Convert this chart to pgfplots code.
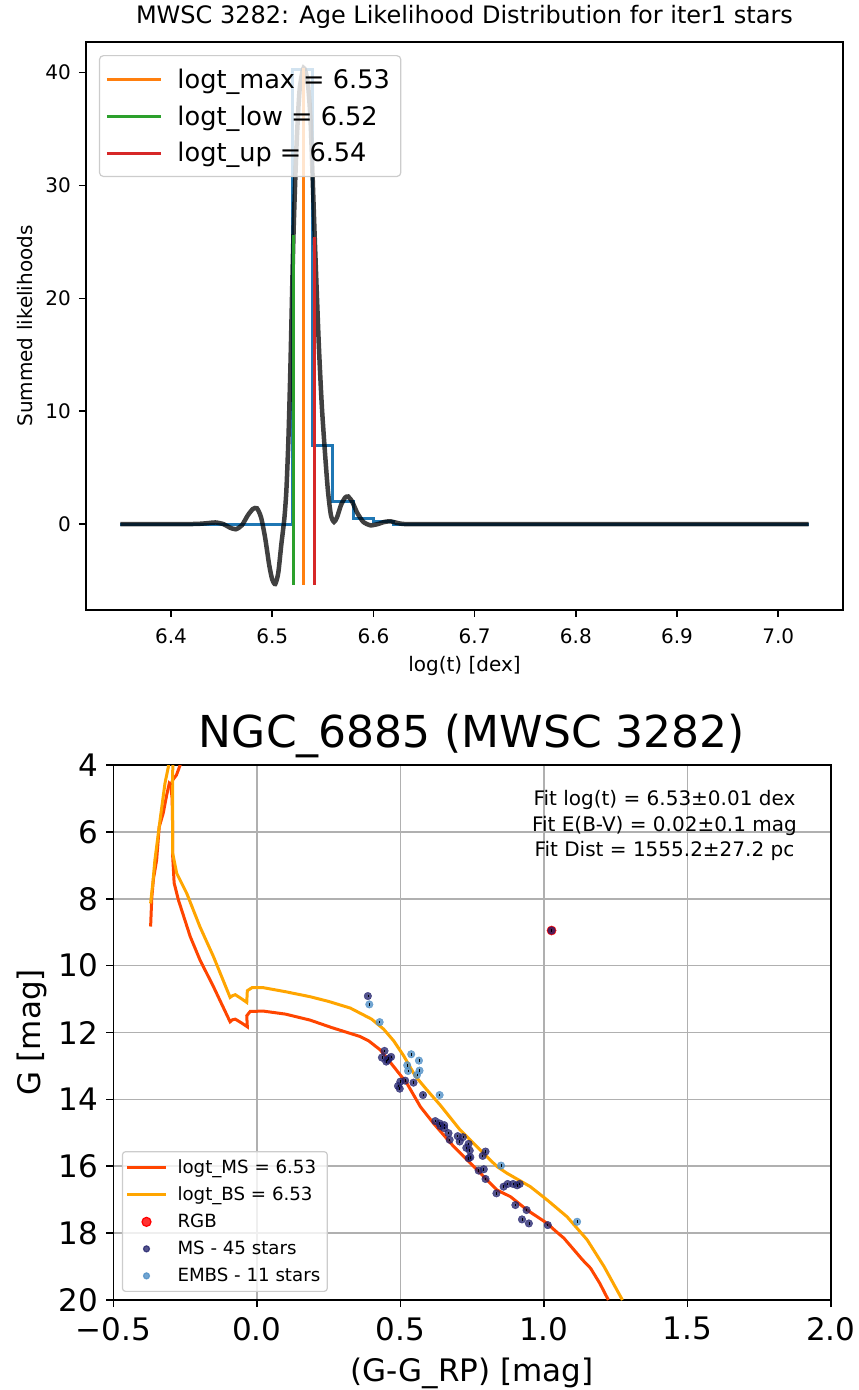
\documentclass[border=0pt]{standalone}
\usepackage{fontspec}
\setmainfont{DejaVu Sans}
\usepackage{pgfplots}
\usepackage{pgfplotstable}
\pgfplotsset{compat=1.18}
\definecolor{tabblue}{HTML}{1F77B4}
\definecolor{taborange}{HTML}{FF7F0E}
\definecolor{tabgreen}{HTML}{2CA02C}
\definecolor{tabred}{HTML}{D62728}
\definecolor{msiso}{HTML}{FF4500}
\definecolor{bsiso}{HTML}{FFA500}
\definecolor{msstar}{HTML}{24246E}
\definecolor{embsstar}{HTML}{4F8FC6}
\definecolor{gridgray}{HTML}{B0B0B0}
\definecolor{leggray}{HTML}{CCCCCC}
\pgfplotsset{dotleg/.style={legend image code/.code={\draw[##1, mark size=#1] plot coordinates {(19.5pt,0pt)};}}}

% ---------- top panel data ----------
\pgfplotstableread{
x y
6.350 0
6.400 0.0
6.425 0.02
6.435 0.08
6.444 0.15
6.452 0.0
6.458 -0.3
6.464 -0.45
6.470 -0.1
6.476 0.8
6.481 1.35
6.485 1.4
6.489 0.6
6.493 -1.2
6.497 -3.6
6.500 -4.9
6.503 -5.3
6.506 -4.3
6.509 -1.8
6.512 0.5
6.514 3.0
6.516 7.5
6.518 14.0
6.521 25.6
6.524 33.5
6.527 38.4
6.531 40.4
6.535 39.2
6.538 35.5
6.542 25.4
6.546 16.0
6.549 10.5
6.552 6.5
6.555 3.0
6.558 0.8
6.561 0.2
6.564 0.6
6.568 1.7
6.572 2.35
6.575 2.45
6.579 2.0
6.584 1.0
6.590 0.2
6.597 -0.1
6.604 0.0
6.611 0.2
6.617 0.25
6.624 0.1
6.635 0.0
6.700 0.0
7.030 0.0
}\blackcurve

\pgfplotstableread{
x y
6.35 0
6.52 0
6.52 40.3
6.54 40.3
6.54 7.0
6.56 7.0
6.56 2.05
6.58 2.05
6.58 0.48
6.60 0.48
6.60 0.2
6.62 0.2
6.62 0
7.03 0
}\histo

% ---------- bottom panel data ----------
\pgfplotstableread{
x y
1.225 20.0
1.195 19.5
1.163 19.05
1.135 18.8
1.105 18.5
1.07 18.15
1.04 17.93
1.012 17.71
0.942 17.31
0.884 16.91
0.837 16.71
0.756 16.01
0.686 15.41
0.616 14.72
0.570 14.22
0.523 13.52
0.477 13.02
0.430 12.52
0.390 12.25
0.360 12.12
0.26 11.85
0.186 11.63
0.10 11.45
0.023 11.36
-0.023 11.37
-0.035 11.5
-0.033 11.83
-0.052 11.72
-0.075 11.6
-0.085 11.62
-0.093 11.68
-0.151 10.63
-0.198 9.83
-0.232 9.13
-0.273 8.04
-0.288 7.53
-0.293 6.74
-0.293 6.03
-0.295 5.0
-0.300 4.6
-0.293 4.45
-0.280 4.3
-0.267 4.0
-0.255 3.5
}\msisoA

\pgfplotstableread{
x y
-0.370 8.83
-0.366 7.98
-0.360 7.4
-0.349 6.84
-0.340 5.85
-0.326 5.44
-0.314 4.9
-0.305 4.55
-0.300 4.6
}\msisoB

\pgfplotstableread{
x y
1.274 20.0
1.21 19.0
1.151 18.2
1.081 17.51
1.012 17.01
0.953 16.61
0.872 16.21
0.837 16.01
0.779 15.52
0.709 14.92
0.639 14.17
0.593 13.72
0.552 13.3
0.512 12.7
0.477 12.25
0.442 11.9
0.40 11.6
0.326 11.27
0.25 11.07
0.186 10.93
0.10 10.78
0.023 10.66
-0.017 10.66
-0.033 10.75
-0.035 11.1
-0.055 10.98
-0.075 10.87
-0.085 10.9
-0.093 10.95
-0.151 9.73
-0.198 8.84
-0.244 7.84
-0.279 7.24
-0.293 6.64
-0.293 5.05
-0.293 4.2
-0.291 3.5
}\bsisoA

\pgfplotstableread{
x y
-0.370 8.14
-0.362 7.5
-0.355 6.84
-0.337 5.64
-0.320 4.55
-0.308 4.05
-0.305 3.5
}\bsisoB

\pgfplotstableread{
x y
1.027 8.95
}\rgb

\pgfplotstableread{
x y
1.027 8.95
0.387 10.91
0.445 12.55
0.436 12.75
0.468 12.73
0.451 12.87
0.456 12.82
0.460 12.78
0.517 13.44
0.500 13.47
0.546 13.50
0.492 13.60
0.498 13.68
0.579 13.87
0.622 14.65
0.637 14.72
0.640 14.80
0.653 14.77
0.653 14.86
0.668 15.01
0.672 15.21
0.700 15.10
0.707 15.26
0.718 15.13
0.730 15.45
0.738 15.33
0.742 15.53
0.744 15.73
0.738 15.76
0.797 15.56
0.787 15.69
0.773 16.13
0.791 16.09
0.797 16.38
0.835 16.81
0.860 16.61
0.874 16.53
0.893 16.53
0.907 16.57
0.916 16.53
0.901 17.16
0.940 17.31
0.924 17.59
0.948 17.71
1.014 17.76
}\msstars

\pgfplotstableread{
x y
0.392 11.16
0.428 11.69
0.538 12.65
0.565 12.84
0.524 12.98
0.567 13.14
0.527 13.15
0.558 13.27
0.637 13.87
0.851 15.98
1.116 17.66
}\embsstars

\begin{document}
\begin{tikzpicture}
\useasboundingbox (0pt,0pt) rectangle (859pt,1390pt);

% ================= TOP PANEL =================
\begin{axis}[
  at={(86pt,780pt)}, anchor=south west,
  scale only axis, width=757pt, height=568pt,
  xmin=6.316, xmax=7.064, ymin=-7.6, ymax=42.7,
  axis line style={line width=1.6pt},
  tick align=outside, tick pos=left,
  major tick length=7pt,
  every tick/.style={black, line width=1.6pt},
  xtick={6.4,6.5,6.6,6.7,6.8,6.9,7.0},
  xticklabels={6.4,6.5,6.6,6.7,6.8,6.9,7.0},
  ytick={0,10,20,30,40},
  yticklabels={0,10,20,30,40},
  xticklabel style={font=\fontsize{20}{24}\selectfont, anchor=north, inner sep=0pt, yshift=-11pt},
  yticklabel style={font=\fontsize{20}{24}\selectfont, anchor=east, inner sep=0pt, xshift=-8pt},
  title={MWSC 3282: Age Likelihood Distribution for iter1 stars},
  title style={font=\fontsize{24}{28}\selectfont, at={(axis description cs:0.5,1.0211)}, anchor=base},
  xlabel={log(t) [dex]},
  xlabel style={font=\fontsize{20}{24}\selectfont, at={(axis description cs:0.5,-0.1086)}, anchor=base},
  ylabel={Summed likelihoods},
  ylabel style={font=\fontsize{20}{24}\selectfont, at={(axis description cs:-0.0713,0.5)}, anchor=base, rotate=0},
  legend cell align=left,
  legend style={at={(0.017,0.977)}, anchor=north west, draw=leggray, line width=1.2pt,
    fill=white, fill opacity=0.8, text opacity=1, draw opacity=1, rounded corners=4pt,
    font=\fontsize{25.6}{30}\selectfont, row sep=0pt, column sep=10pt, inner xsep=6pt, inner ysep=5pt,
    nodes={inner ysep=8pt, inner xsep=5pt}},
  legend image code/.code={\draw[#1, line width=3pt] (0pt,0pt) -- (54pt,0pt);},
]
\addplot[tabblue, line width=3pt, forget plot] table {\histo};
\addplot[black, opacity=0.75, line width=4.5pt, smooth, tension=0.4, forget plot] table {\blackcurve};
\addplot[taborange, line width=3pt] coordinates {(6.531,-5.35) (6.531,40.4)};
\addlegendentry{logt\_max = 6.53}
\addplot[tabgreen, line width=3pt] coordinates {(6.521,-5.35) (6.521,25.6)};
\addlegendentry{logt\_low = 6.52}
\addplot[tabred, line width=3pt] coordinates {(6.542,-5.35) (6.542,25.4)};
\addlegendentry{logt\_up = 6.54}
\end{axis}

% ================= BOTTOM PANEL =================
\begin{axis}[
  at={(113.3pt,90pt)}, anchor=south west,
  scale only axis, width=717.5pt, height=535pt,
  xmin=-0.5, xmax=2.0, ymin=4, ymax=20, y dir=reverse,
  axis line style={line width=1.6pt},
  tick align=outside, tick pos=left,
  major tick length=7pt,
  every tick/.style={black, line width=1.6pt},
  grid=major,
  major grid style={gridgray, line width=1.6pt},
  xtick={-0.5,0,0.5,1,1.5,2},
  xticklabels={−0.5,0.0,0.5,1.0,1.5,2.0},
  ytick={4,6,8,10,12,14,16,18,20},
  yticklabels={4,6,8,10,12,14,16,18,20},
  xticklabel style={font=\fontsize{31}{36}\selectfont, anchor=north, inner sep=0pt, yshift=-10pt},
  yticklabel style={font=\fontsize{31}{36}\selectfont, anchor=east, inner sep=0pt, xshift=-8pt},
  title={NGC\_6885 (MWSC 3282)},
  title style={font=\fontsize{44}{50}\selectfont, at={(axis description cs:0.5,1.0224)}, anchor=base},
  xlabel={(G-G\_RP) [mag]},
  xlabel style={font=\fontsize{31}{36}\selectfont, at={(axis description cs:0.5,-0.1527)}, anchor=base},
  ylabel={G [mag]},
  ylabel style={font=\fontsize{31}{36}\selectfont, at={(axis description cs:-0.1017,0.5)}, anchor=base, rotate=0},
  legend cell align=left,
  legend style={at={(0.012,0.015)}, anchor=south west, draw=leggray, line width=1.2pt,
    fill=white, fill opacity=0.8, text opacity=1, draw opacity=1, rounded corners=3pt,
    font=\fontsize{18.2}{22}\selectfont, row sep=0pt, column sep=6pt, inner xsep=3pt, inner ysep=2pt,
    nodes={inner ysep=6pt, inner xsep=4pt}},
  legend image code/.code={\draw[#1, line width=3pt] (0pt,0pt) -- (39pt,0pt);},
]
\addplot[msiso, line width=3pt] table {\msisoA};
\addlegendentry{logt\_MS = 6.53}
\addplot[bsiso, line width=3pt] table {\bsisoA};
\addlegendentry{logt\_BS = 6.53}
\addplot[msiso, line width=3pt, forget plot] table {\msisoB};
\addplot[bsiso, line width=3pt, forget plot] table {\bsisoB};
\addplot[only marks, mark=*, mark size=4.6pt, color=red, fill=red, dotleg=4.5pt] table {\rgb};
\addlegendentry{RGB}
\addplot[only marks, mark=*, mark size=3.8pt, color=msstar, fill=msstar, opacity=0.78, dotleg=3pt] table {\msstars};
\addlegendentry{MS - 45 stars}
\addplot[only marks, mark=*, mark size=3.8pt, color=embsstar, fill=embsstar, opacity=0.8, dotleg=3pt] table {\embsstars};
\addlegendentry{EMBS - 11 stars}
\addplot[only marks, mark=|, mark size=1.3pt, black, line width=0.7pt, forget plot] table {\msstars};
\addplot[only marks, mark=|, mark size=1.3pt, black, line width=0.7pt, forget plot] table {\embsstars};
\node[anchor=north east, align=center, font=\fontsize{20}{25.5}\selectfont, inner sep=0pt]
  at (rel axis cs:0.953,0.953) {Fit log(t) = 6.53±0.01 dex\\Fit E(B-V) = 0.02±0.1 mag\\Fit Dist = 1555.2±27.2 pc};
\end{axis}
\end{tikzpicture}
\end{document}
